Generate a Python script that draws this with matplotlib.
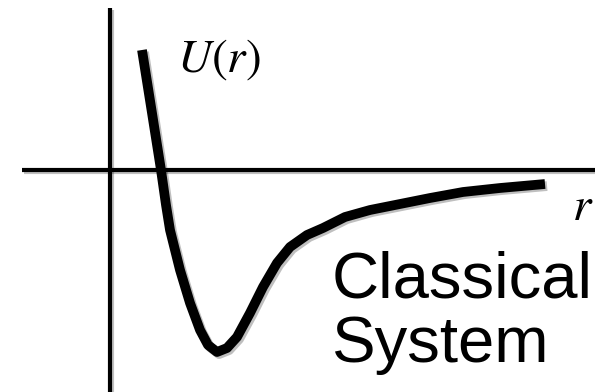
import matplotlib
matplotlib.use('Agg')
import matplotlib.pyplot as plt
import matplotlib.patheffects as pe
import numpy as np

# --------- DATA (r, U) in sketch units, origin at the axis crossing ----------
r_pts = [32, 42, 51, 56, 60, 70, 80, 90, 98, 107, 117, 127, 140, 153, 167,
         180, 197, 213, 235, 260, 290, 320, 353, 390, 435]
U_pts = [120, 57, 0, -35, -60, -100, -133, -160, -175, -182, -178, -167, -143, -117, -93,
         -77, -65, -58, -47, -40, -34, -28, -22, -18, -14]

U_label = r'$U(r)$'
r_label = r'$r$'
title_lines = ['Classical', 'System']
# ----------------------------------------------------------------------------

plt.rcParams['mathtext.fontset'] = 'stix'

fh = plt.figure(figsize=(5.95, 3.92), dpi=100)
ax = fh.add_axes([0, 0, 1, 1])
ax.set_xlim(-110, 485)
ax.set_ylim(-222, 170)
ax.axis('off')

shadow = [pe.SimpleLineShadow(offset=(1.5, -1.5), alpha=0.25, shadow_color='k'), pe.Normal()]

# axes lines
ax.plot([-88, 485], [0, 0], color='black', lw=3, solid_capstyle='butt', path_effects=shadow)
ax.plot([0, 0], [162, -222], color='black', lw=3, solid_capstyle='butt', path_effects=shadow)

# potential curve
ax.plot(r_pts, U_pts, color='black', lw=7, solid_capstyle='butt',
        solid_joinstyle='round', path_effects=shadow)

ax.text(67, 98, U_label, fontsize=34, va='baseline', ha='left')
ax.text(462, -50, r_label, fontsize=34, va='baseline', ha='left')

ax.text(222, -127, title_lines[0], fontsize=47, family='Liberation Sans',
        va='baseline', ha='left')
ax.text(222, -192, title_lines[1], fontsize=47, family='Liberation Sans',
        va='baseline', ha='left')

fh.savefig('out.png', dpi=100)
